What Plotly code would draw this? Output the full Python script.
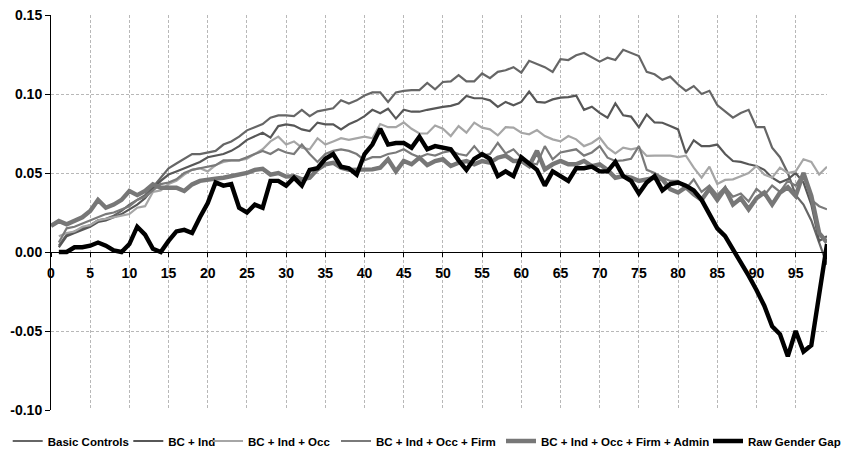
import plotly.graph_objects as go

# Percentile of the wage distribution
pct = list(range(1, 100))
pct_admin = list(range(0, 100))

basic_controls = [
    0.004, 0.011, 0.013, 0.015, 0.017, 0.020, 0.021, 0.023, 0.026, 0.030,
    0.033, 0.036, 0.041, 0.047, 0.053, 0.056, 0.059, 0.062, 0.062, 0.063,
    0.064, 0.068, 0.070, 0.073, 0.077, 0.079, 0.081, 0.085, 0.0865, 0.0865,
    0.086, 0.090, 0.086, 0.089, 0.090, 0.091, 0.096, 0.094, 0.096, 0.099,
    0.101, 0.101, 0.095, 0.101, 0.102, 0.1025, 0.1025, 0.107, 0.103, 0.1076,
    0.108, 0.112, 0.108, 0.108, 0.113, 0.110, 0.114, 0.115, 0.117, 0.1135,
    0.121, 0.119, 0.117, 0.114, 0.122, 0.1215, 0.1245, 0.126, 0.123, 0.1205,
    0.123, 0.1215, 0.128, 0.126, 0.124, 0.114, 0.1125, 0.109, 0.111, 0.106,
    0.102, 0.105, 0.100, 0.102, 0.093, 0.089, 0.085, 0.088, 0.090, 0.079,
    0.079, 0.066, 0.060, 0.050, 0.036, 0.030, 0.020, 0.006, -0.008,
]

bc_ind = [
    0.003, 0.010, 0.012, 0.014, 0.016, 0.019, 0.020, 0.022, 0.024, 0.027,
    0.030, 0.034, 0.040, 0.045, 0.049, 0.051, 0.053, 0.055, 0.057, 0.060,
    0.061, 0.062, 0.064, 0.067, 0.071, 0.073, 0.0755, 0.0724, 0.0797, 0.0808,
    0.080, 0.0776, 0.0766, 0.0819, 0.0808, 0.0808, 0.0776, 0.0808, 0.083, 0.086,
    0.090, 0.0878, 0.0907, 0.0844, 0.090, 0.0888, 0.0888, 0.090, 0.091, 0.0918,
    0.0925, 0.094, 0.0987, 0.0973, 0.0973, 0.096, 0.0918, 0.095, 0.0928, 0.095,
    0.1015, 0.095, 0.0945, 0.0966, 0.0977, 0.098, 0.099, 0.090, 0.092, 0.088,
    0.085, 0.094, 0.0865, 0.0857, 0.079, 0.087, 0.082, 0.0818, 0.0797, 0.0776,
    0.0625, 0.0707, 0.067, 0.067, 0.068, 0.062, 0.0576, 0.057, 0.0555, 0.0544,
    0.052, 0.047, 0.044, 0.046, 0.050, 0.044, 0.030, 0.007, 0.010,
]

bc_ind_occ = [
    0.010, 0.012, 0.013, 0.016, 0.017, 0.020, 0.021, 0.022, 0.023, 0.024,
    0.028, 0.029, 0.038, 0.039, 0.043, 0.045, 0.049, 0.052, 0.053, 0.051,
    0.055, 0.057, 0.058, 0.058, 0.059, 0.062, 0.065, 0.070, 0.073, 0.068,
    0.070, 0.066, 0.065, 0.072, 0.068, 0.070, 0.072, 0.071, 0.072, 0.073,
    0.072, 0.081, 0.079, 0.079, 0.082, 0.078, 0.075, 0.075, 0.080, 0.078,
    0.0734, 0.0797, 0.0755, 0.0819, 0.0787, 0.0776, 0.0738, 0.079, 0.0787, 0.0755,
    0.0745, 0.0772, 0.0734, 0.0713, 0.070, 0.0734, 0.0713, 0.067, 0.069, 0.0724,
    0.066, 0.0624, 0.066, 0.065, 0.066, 0.0608, 0.061, 0.061, 0.061, 0.060,
    0.061, 0.0534, 0.047, 0.054, 0.043, 0.0456, 0.046, 0.048, 0.050, 0.0544,
    0.049, 0.047, 0.0534, 0.050, 0.051, 0.0587, 0.057, 0.049, 0.054,
]

bc_ind_occ_firm = [
    0.006, 0.015, 0.016, 0.018, 0.020, 0.022, 0.024, 0.025, 0.027, 0.029,
    0.033, 0.035, 0.039, 0.043, 0.044, 0.046, 0.050, 0.052, 0.053, 0.054,
    0.055, 0.058, 0.058, 0.058, 0.060, 0.062, 0.064, 0.062, 0.065, 0.063,
    0.062, 0.068, 0.062, 0.057, 0.062, 0.064, 0.065, 0.064, 0.062, 0.058,
    0.060, 0.060, 0.062, 0.063, 0.065, 0.062, 0.060, 0.062, 0.061, 0.063,
    0.064, 0.062, 0.061, 0.067, 0.061, 0.062, 0.069, 0.0624, 0.065, 0.0597,
    0.0565, 0.0555, 0.067, 0.0587, 0.063, 0.064, 0.065, 0.061, 0.063, 0.067,
    0.0597, 0.0576, 0.058, 0.059, 0.067, 0.052, 0.050, 0.047, 0.045, 0.045,
    0.040, 0.046, 0.038, 0.042, 0.036, 0.041, 0.035, 0.037, 0.032, 0.040,
    0.036, 0.042, 0.038, 0.045, 0.042, 0.050, 0.033, 0.029, 0.027,
]

bc_ind_occ_firm_admin = [
    0.0165,
    0.0196, 0.0175, 0.0196, 0.022, 0.026, 0.033, 0.028, 0.030, 0.033, 0.0386,
    0.036, 0.0386, 0.0428, 0.0407, 0.0407, 0.0407, 0.0386, 0.0428, 0.045, 0.046,
    0.0464, 0.047, 0.048, 0.049, 0.050, 0.052, 0.0527, 0.049, 0.050, 0.0477,
    0.048, 0.046, 0.047, 0.0523, 0.0555, 0.0565, 0.0534, 0.052, 0.052, 0.0523,
    0.0523, 0.0534, 0.0587, 0.051, 0.0576, 0.0555, 0.0597, 0.055, 0.0576, 0.0587,
    0.0544, 0.0565, 0.0576, 0.0555, 0.0576, 0.0565, 0.0597, 0.061, 0.0576, 0.0576,
    0.0544, 0.064, 0.0523, 0.0555, 0.0576, 0.0555, 0.0555, 0.0576, 0.0544, 0.0555,
    0.052, 0.047, 0.048, 0.047, 0.045, 0.046, 0.047, 0.046, 0.0397, 0.0376,
    0.041, 0.0365, 0.033, 0.040, 0.033, 0.040, 0.030, 0.034, 0.027, 0.034,
    0.0376, 0.030, 0.0376, 0.041, 0.0355, 0.050, 0.0355, 0.012, 0.006,
]

raw_gender_gap = [
    0.000, 0.000, 0.003, 0.003, 0.004, 0.006, 0.004, 0.001, 0.000, 0.005,
    0.016, 0.011, 0.002, 0.000, 0.007, 0.013, 0.014, 0.012, 0.022, 0.031,
    0.044, 0.042, 0.043, 0.028, 0.025, 0.030, 0.028, 0.045, 0.045, 0.042,
    0.047, 0.042, 0.052, 0.053, 0.059, 0.062, 0.054, 0.053, 0.049, 0.062,
    0.068, 0.078, 0.068, 0.069, 0.069, 0.066, 0.073, 0.065, 0.067, 0.066,
    0.065, 0.058, 0.052, 0.059, 0.062, 0.059, 0.048, 0.051, 0.048, 0.060,
    0.056, 0.052, 0.042, 0.051, 0.048, 0.045, 0.053, 0.053, 0.054, 0.051,
    0.051, 0.057, 0.048, 0.045, 0.037, 0.044, 0.048, 0.039, 0.043, 0.044,
    0.042, 0.039, 0.033, 0.024, 0.015, 0.010, 0.002, -0.007, -0.015, -0.024,
    -0.034, -0.047, -0.052, -0.066, -0.050, -0.063, -0.059, -0.027, 0.005,
]

x_tick_vals = list(range(0, 100, 5))
x_tick_labels = [str(v) for v in x_tick_vals]
y_tick_vals = [-0.10, -0.05, 0.00, 0.05, 0.10, 0.15]
y_tick_labels = ["-0.10", "-0.05", "0.00", "0.05", "0.10", "0.15"]

series = [
    # name, x, y, colour, width, legend id, legend sample start (px)
    ("Basic Controls", pct, basic_controls, "#666666", 2.2, "legend", 12.7),
    ("BC + Ind", pct, bc_ind, "#575757", 2.2, "legend2", 133.3),
    ("BC + Ind + Occ", pct, bc_ind_occ, "#a6a6a6", 2.2, "legend3", 213.0),
    ("BC + Ind + Occ + Firm", pct, bc_ind_occ_firm, "#7a7a7a", 2.2, "legend4", 341.0),
    ("BC + Ind + Occ + Firm + Admin", pct_admin, bc_ind_occ_firm_admin, "#777777", 4.4, "legend5", 506.0),
    ("Raw Gender Gap", pct, raw_gender_gap, "#000000", 4.4, "legend6", 713.0),
]

W, H = 846, 450
font_family = "Liberation Sans, Arial, sans-serif"

fig = go.Figure()
legend_layouts = {}
for name, xs, ys, color, width, leg, sample_x in series:
    fig.add_trace(go.Scatter(
        x=xs, y=ys, name=name, mode="lines",
        line=dict(color=color, width=width),
        legend=leg, hoverinfo="skip",
    ))
    legend_layouts[leg] = dict(
        x=(sample_x - 5) / W, xref="container", xanchor="left",
        y=(H - 441) / H, yref="container", yanchor="middle",
        orientation="h", bgcolor="rgba(0,0,0,0)", borderwidth=0,
        itemwidth=30,
        font=dict(family=font_family, size=11.5, color="#000000", weight="bold"),
    )

gridcolor = "#b8b8b8"
tickfont = dict(family=font_family, size=14, color="#000000", weight="bold")

fig.update_layout(
    width=W, height=H,
    margin=dict(l=51, r=19, t=15, b=40, autoexpand=False),
    paper_bgcolor="#ffffff", plot_bgcolor="#ffffff",
    showlegend=True,
    xaxis=dict(
        range=[0, 99], tickmode="array", tickvals=x_tick_vals, ticktext=x_tick_labels,
        showgrid=True, gridcolor=gridcolor, gridwidth=1, griddash="3px,2px",
        zeroline=False, showline=True, linecolor="#000000", linewidth=1,
        ticks="outside", ticklen=4, tickcolor="#000000", ticklabelstandoff=4,
        anchor="free", position=0.4, tickfont=tickfont,
    ),
    yaxis=dict(
        range=[-0.10, 0.15], tickmode="array", tickvals=y_tick_vals, ticktext=y_tick_labels,
        showgrid=True, gridcolor=gridcolor, gridwidth=1, griddash="3px,2px",
        zeroline=False, showline=True, linecolor="#000000", linewidth=1,
        ticks="outside", ticklen=5, tickcolor="#000000", tickfont=tickfont,
    ),
    **legend_layouts,
)

fig.write_html("out.html")
